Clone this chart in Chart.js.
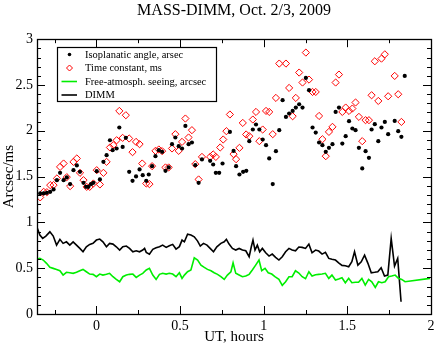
<!DOCTYPE html>
<html><head><meta charset="utf-8">
<script src="https://cdn.jsdelivr.net/npm/chart.js@4.4.1/dist/chart.umd.min.js"></script>
<style>html,body{margin:0;padding:0;background:#fff}canvas{display:block}</style>
</head><body>
<canvas id="c" width="436" height="346"></canvas>
<script>
const isoTime = [-0.336,-0.315,-0.296,-0.276,-0.256,-0.236,-0.217,-0.196,-0.177,-0.157,-0.137,-0.117,-0.098,-0.077,-0.062,-0.048,-0.032,-0.018,0.002,0.021,0.042,0.061,0.081,0.097,0.121,0.137,0.157,0.176,0.196,0.216,0.237,0.258,0.277,0.298,0.313,0.333,0.353,0.373,0.393,0.413,0.432,0.452,0.472,0.492,0.512,0.532,0.551,0.571,0.591,0.611,0.631,0.680,0.698,0.714,0.734,0.754,0.798,0.820,0.835,0.855,0.877,0.896,0.914,0.935,0.954,0.974,0.994,1.014,1.033,1.054,1.073,1.093,1.113,1.133,1.152,1.173,1.192,1.212,1.232,1.252,1.271,1.292,1.311,1.331,1.351,1.371,1.390,1.411,1.430,1.450,1.470,1.490,1.510,1.530,1.549,1.569,1.589,1.609,1.629,1.645,1.664,1.685,1.704,1.724,1.744,1.783,1.804,1.823,1.843];
const isoAngle = [1.316,1.316,1.323,1.334,1.36,1.461,1.541,1.461,1.491,1.418,1.570,1.622,1.552,1.432,1.388,1.388,1.418,1.432,1.559,1.469,1.661,1.734,1.897,1.788,1.807,2.036,1.824,1.923,1.552,1.454,1.502,1.578,1.516,1.454,1.523,1.614,1.723,1.788,1.770,1.563,1.600,1.854,1.927,1.832,1.807,2.053,1.854,1.872,1.625,1.432,1.687,1.672,1.632,1.541,1.541,1.643,1.988,1.780,1.614,1.523,1.552,1.563,1.887,2.014,2.069,2.014,1.905,1.843,1.698,1.418,1.778,2.007,2.334,2.152,2.189,2.217,2.254,2.290,2.254,2.577,2.443,2.036,1.981,1.872,1.843,1.770,1.814,1.854,2.206,2.254,1.861,1.941,2.105,2.025,2.007,1.814,1.589,1.778,1.705,2.014,2.072,1.887,2.036,2.097,1.963,2.108,1.996,1.934,2.599];

const tauTime = [-0.336,-0.315,-0.296,-0.276,-0.256,-0.236,-0.217,-0.196,-0.177,-0.157,-0.137,-0.117,-0.098,-0.077,-0.058,-0.040,-0.018,0.002,0.021,0.042,0.061,0.081,0.101,0.121,0.137,0.157,0.176,0.196,0.216,0.237,0.258,0.274,0.298,0.317,0.333,0.353,0.373,0.393,0.413,0.432,0.452,0.472,0.492,0.512,0.532,0.551,0.571,0.591,0.611,0.631,0.680,0.698,0.714,0.740,0.758,0.777,0.798,0.820,0.835,0.855,0.875,0.895,0.914,0.935,0.954,0.974,0.994,1.014,1.033,1.054,1.073,1.093,1.133,1.152,1.173,1.192,1.212,1.232,1.252,1.271,1.292,1.311,1.331,1.351,1.371,1.390,1.411,1.430,1.450,1.470,1.490,1.510,1.530,1.549,1.569,1.589,1.609,1.629,1.645,1.664,1.685,1.704,1.724,1.744,1.783,1.804,1.823];
const tauValue = [1.273,1.334,1.33,1.407,1.407,1.48,1.606,1.643,1.494,1.396,1.661,1.698,1.541,1.461,1.388,1.388,1.425,1.570,1.414,1.541,1.661,1.818,1.843,1.897,2.217,1.923,2.170,1.916,1.767,1.879,1.854,1.643,1.425,1.418,1.614,1.781,1.796,1.778,1.600,1.600,1.807,1.963,1.781,1.879,2.134,1.927,2.007,1.636,1.469,1.715,1.715,1.742,1.715,1.818,1.905,1.996,2.178,1.745,1.690,1.814,2.086,1.960,1.941,2.123,2.206,1.887,2.014,2.217,2.206,1.963,2.359,2.734,2.734,2.468,2.159,2.359,2.636,2.527,2.854,2.559,2.424,2.424,2.162,1.908,1.723,1.988,2.043,2.527,2.614,2.206,2.254,2.217,2.243,2.309,2.152,1.887,2.116,2.116,2.388,2.759,2.326,2.788,2.835,2.377,2.599,2.399,2.097];

const seeTime = [-0.354,-0.338,-0.318,-0.298,-0.278,-0.258,-0.238,-0.218,-0.199,-0.179,-0.159,-0.139,-0.119,-0.099,-0.080,-0.060,-0.040,-0.020,0.000,0.020,0.039,0.060,0.079,0.099,0.119,0.139,0.158,0.179,0.198,0.218,0.238,0.258,0.277,0.298,0.317,0.337,0.357,0.377,0.396,0.417,0.436,0.456,0.476,0.496,0.512,0.526,0.545,0.565,0.585,0.605,0.625,0.645,0.664,0.685,0.704,0.724,0.744,0.764,0.783,0.804,0.817,0.833,0.853,0.873,0.893,0.913,0.932,0.952,0.972,0.988,1.008,1.027,1.048,1.067,1.091,1.111,1.131,1.151,1.170,1.190,1.210,1.230,1.250,1.270,1.289,1.310,1.329,1.349,1.369,1.389,1.408,1.429,1.448,1.468,1.488,1.508,1.527,1.548,1.567,1.587,1.607,1.627,1.646,1.667,1.686,1.706,1.726,1.746,1.765,1.786,1.805,1.825,1.845,1.994];
const seeValue = [0.600,0.607,0.589,0.553,0.509,0.498,0.487,0.472,0.425,0.455,0.450,0.444,0.455,0.472,0.487,0.461,0.436,0.433,0.407,0.436,0.425,0.433,0.444,0.407,0.378,0.352,0.407,0.425,0.433,0.436,0.400,0.425,0.444,0.480,0.498,0.425,0.378,0.433,0.444,0.436,0.444,0.436,0.407,0.450,0.389,0.425,0.461,0.480,0.614,0.589,0.534,0.509,0.487,0.472,0.450,0.433,0.407,0.378,0.425,0.461,0.559,0.444,0.425,0.407,0.414,0.433,0.480,0.534,0.589,0.472,0.498,0.450,0.436,0.407,0.378,0.313,0.352,0.407,0.407,0.472,0.447,0.407,0.385,0.461,0.414,0.429,0.433,0.436,0.444,0.389,0.425,0.371,0.382,0.396,0.341,0.389,0.341,0.346,0.346,0.389,0.316,0.378,0.352,0.291,0.352,0.341,0.352,0.407,0.414,0.425,0.389,0.378,0.352,0.389];

const dimmTime = [-0.354,-0.338,-0.321,-0.302,-0.278,-0.258,-0.238,-0.218,-0.199,-0.179,-0.159,-0.139,-0.119,-0.099,-0.080,-0.060,-0.040,-0.020,0.000,0.020,0.039,0.060,0.079,0.099,0.119,0.139,0.158,0.179,0.198,0.218,0.238,0.258,0.277,0.288,0.298,0.317,0.337,0.357,0.377,0.396,0.417,0.436,0.456,0.476,0.496,0.512,0.526,0.545,0.565,0.585,0.605,0.621,0.640,0.661,0.680,0.700,0.720,0.744,0.764,0.777,0.793,0.813,0.833,0.853,0.873,0.893,0.913,0.926,0.936,0.948,0.962,0.976,0.992,1.012,1.032,1.051,1.071,1.091,1.111,1.131,1.151,1.170,1.190,1.210,1.230,1.250,1.270,1.289,1.310,1.329,1.349,1.369,1.389,1.408,1.429,1.448,1.468,1.488,1.508,1.527,1.543,1.563,1.583,1.603,1.623,1.643,1.663,1.682,1.702,1.722,1.742,1.762,1.782,1.801,1.821];
const dimmValue = [0.941,0.862,0.826,0.851,0.897,0.851,0.752,0.815,0.771,0.788,0.752,0.788,0.752,0.716,0.679,0.734,0.760,0.771,0.807,0.818,0.788,0.734,0.771,0.763,0.734,0.698,0.734,0.742,0.716,0.679,0.690,0.679,0.698,0.716,0.673,0.654,0.706,0.723,0.734,0.752,0.727,0.745,0.760,0.709,0.735,0.807,0.788,0.872,0.862,0.843,0.796,0.742,0.771,0.752,0.716,0.679,0.734,0.771,0.788,0.815,0.763,0.716,0.698,0.716,0.698,0.690,0.625,0.734,0.807,0.698,0.752,0.679,0.716,0.668,0.632,0.654,0.618,0.589,0.625,0.679,0.716,0.698,0.690,0.731,0.727,0.716,0.763,0.668,0.698,0.687,0.654,0.673,0.607,0.597,0.589,0.559,0.531,0.527,0.516,0.570,0.679,0.534,0.570,0.643,0.553,0.450,0.455,0.461,0.505,0.414,0.425,0.826,0.523,0.607,0.134];

const xRange = [-0.355, 2];
const yRange = [0, 3];
const seriesLabels = ['Isoplanatic angle, arsec', 'Time constant, ms', 'Free-atmosph. seeing, arcsec', 'DIMM'];

const SERIF = "'Liberation Serif','Times New Roman',serif";
const pts = (xs, ys) => xs.map((x, i) => ({x, y: ys[i]}));

const frameTicks = {
  id: 'frameTicks',
  afterDatasetsDraw(chart) {
    const {ctx, chartArea: a, scales: {x, y}} = chart;
    ctx.save();
    ctx.strokeStyle = '#000';
    ctx.lineWidth = 1;
    ctx.beginPath();
    const MJ = 8, MN = 4;
    for (let k = Math.ceil(xRange[0] / 0.25); k * 0.25 <= xRange[1] + 1e-9; k++) {
      const px = Math.round(x.getPixelForValue(k * 0.25)) + 0.5;
      const L = (k % 2 === 0) ? MJ : MN;
      ctx.moveTo(px, a.bottom); ctx.lineTo(px, a.bottom - L);
      ctx.moveTo(px, a.top); ctx.lineTo(px, a.top + L);
    }
    for (let k = 0; k <= 30; k++) {
      const py = Math.round(y.getPixelForValue(k / 10)) + 0.5;
      const L = (k % 5 === 0) ? MJ : MN;
      ctx.moveTo(a.left, py); ctx.lineTo(a.left + L, py);
      ctx.moveTo(a.right, py); ctx.lineTo(a.right - L, py);
    }
    ctx.stroke();
    ctx.lineWidth = 1.3;
    ctx.strokeRect(Math.round(a.left) + 0.5, Math.round(a.top) + 0.5, Math.round(a.right - a.left), Math.round(a.bottom - a.top));
    ctx.restore();
  }
};

const boxLegend = {
  id: 'boxLegend',
  afterDraw(chart) {
    const ctx = chart.ctx;
    const ds = chart.data.datasets;
    ctx.save();
    const x0 = 57.5, y0 = 47.5, w = 159, h = 54;
    ctx.fillStyle = '#fff';
    ctx.fillRect(x0, y0, w, h);
    ctx.strokeStyle = '#000';
    ctx.lineWidth = 1.2;
    ctx.strokeRect(x0, y0, w, h);
    ctx.font = '10.5px ' + SERIF;
    ctx.textBaseline = 'middle';
    ctx.textAlign = 'left';
    ds.forEach((d, i) => {
      const cy = 54.5 + i * 13.5;
      const sx = 69.5;
      if (d.showLine) {
        ctx.strokeStyle = d.borderColor;
        ctx.lineWidth = 1.6;
        ctx.beginPath(); ctx.moveTo(61.5, cy); ctx.lineTo(77, cy); ctx.stroke();
      } else if (d.pointStyle === 'rectRot') {
        ctx.strokeStyle = d.borderColor;
        ctx.lineWidth = 1;
        ctx.beginPath();
        ctx.moveTo(sx, cy - 3); ctx.lineTo(sx + 3, cy); ctx.lineTo(sx, cy + 3); ctx.lineTo(sx - 3, cy); ctx.closePath();
        ctx.stroke();
      } else {
        ctx.fillStyle = d.backgroundColor;
        ctx.beginPath(); ctx.arc(sx, cy, 1.8, 0, Math.PI * 2); ctx.fill();
      }
      ctx.fillStyle = '#000';
      ctx.fillText(d.label, 85, cy + 0.5);
    });
    ctx.restore();
  }
};

new Chart(document.getElementById('c'), {
  type: 'scatter',
  data: {
    datasets: [
      {label: seriesLabels[0], data: pts(isoTime, isoAngle), pointStyle: 'circle', pointRadius: 2.1, backgroundColor: '#000', borderColor: '#000', borderWidth: 0, showLine: false},
      {label: seriesLabels[1], data: pts(tauTime, tauValue), pointStyle: 'rectRot', pointRadius: 3.6, backgroundColor: 'rgba(0,0,0,0)', borderColor: '#ff0000', borderWidth: 1, showLine: false},
      {label: seriesLabels[2], data: pts(seeTime, seeValue), showLine: true, pointRadius: 0, borderColor: '#00ee00', backgroundColor: '#00ee00', borderWidth: 1.6, tension: 0},
      {label: seriesLabels[3], data: pts(dimmTime, dimmValue), showLine: true, pointRadius: 0, borderColor: '#000', backgroundColor: '#000', borderWidth: 1.6, tension: 0}
    ]
  },
  options: {
    responsive: false,
    animation: false,
    devicePixelRatio: 1,
    layout: {padding: {left: 0, right: 4, top: 1, bottom: 0}},
    plugins: {
      legend: {display: false},
      tooltip: {enabled: false},
      title: {
        display: true, text: 'MASS-DIMM, Oct. 2/3, 2009', color: '#000', fullSize: false,
        font: {family: SERIF, size: 16, weight: 'normal'},
        padding: {top: 0, bottom: 19}
      }
    },
    scales: {
      x: {
        type: 'linear', min: xRange[0], max: xRange[1],
        grid: {display: false, drawTicks: false},
        border: {display: false},
        ticks: {stepSize: 0.5, includeBounds: false, color: '#000', padding: 4, maxRotation: 0,
          font: {family: SERIF, size: 14}, callback: v => String(v)},
        title: {display: true, text: 'UT, hours', color: '#000', font: {family: SERIF, size: 15}, padding: {top: 0, bottom: 0}},
        afterFit: s => { s.height = 32; s.paddingLeft = 0; s.paddingRight = 0; }
      },
      y: {
        type: 'linear', min: yRange[0], max: yRange[1],
        grid: {display: false, drawTicks: false},
        border: {display: false},
        ticks: {stepSize: 0.5, color: '#000', padding: 4, font: {family: SERIF, size: 14}, callback: v => String(v)},
        title: {display: true, text: 'Arcsec/ms', color: '#000', font: {family: SERIF, size: 15}, padding: {top: 0, bottom: 0}},
        afterFit: s => { s.width = 37; }
      }
    }
  },
  plugins: [frameTicks, boxLegend]
});
</script>
</body></html>
